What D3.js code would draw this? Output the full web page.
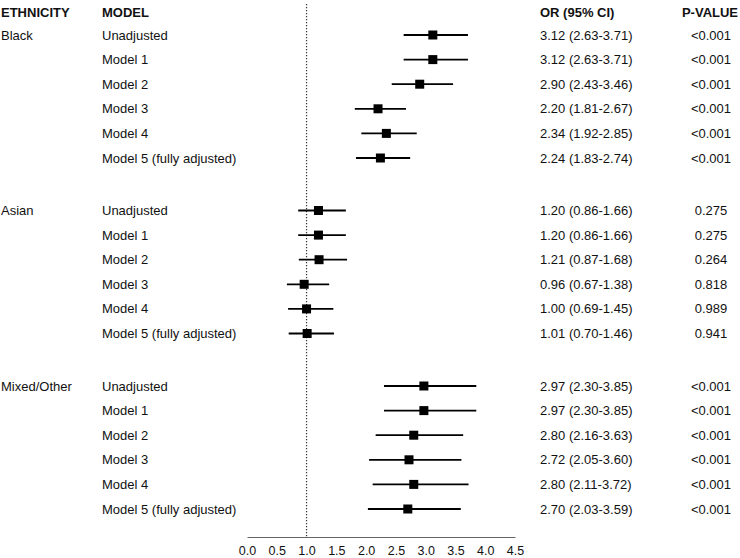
<!DOCTYPE html>
<html>
<head>
<meta charset="utf-8">
<script src="https://cdn.jsdelivr.net/npm/d3@7"></script>
<style>
  body { margin: 0; background: #fff; }
  svg text { font-family: "Liberation Sans", Arial, Helvetica, sans-serif; fill: #111; }
  .head { font-weight: bold; font-size: 13px; }
  .label { font-size: 13px; }
  .tick-label { font-size: 12.5px; }
</style>
</head>
<body>
<div id="chart"></div>
<script>
  const groups = ['Black', 'Asian', 'Mixed/Other'];
  const models = ['Unadjusted', 'Model 1', 'Model 2', 'Model 3', 'Model 4', 'Model 5 (fully adjusted)'];

  const orBlack = [3.12, 3.12, 2.90, 2.20, 2.34, 2.24];
  const loBlack = [2.63, 2.63, 2.43, 1.81, 1.92, 1.83];
  const hiBlack = [3.71, 3.71, 3.46, 2.67, 2.85, 2.74];
  const pBlack = ['<0.001', '<0.001', '<0.001', '<0.001', '<0.001', '<0.001'];

  const orAsian = [1.20, 1.20, 1.21, 0.96, 1.00, 1.01];
  const loAsian = [0.86, 0.86, 0.87, 0.67, 0.69, 0.70];
  const hiAsian = [1.66, 1.66, 1.68, 1.38, 1.45, 1.46];
  const pAsian = ['0.275', '0.275', '0.264', '0.818', '0.989', '0.941'];

  const orMixed = [2.97, 2.97, 2.80, 2.72, 2.80, 2.70];
  const loMixed = [2.30, 2.30, 2.16, 2.05, 2.11, 2.03];
  const hiMixed = [3.85, 3.85, 3.63, 3.60, 3.72, 3.59];
  const pMixed = ['<0.001', '<0.001', '<0.001', '<0.001', '<0.001', '<0.001'];

  const xTicks = [0, 0.5, 1, 1.5, 2, 2.5, 3, 3.5, 4, 4.5];

  const series = [
    {or: orBlack, lo: loBlack, hi: hiBlack, p: pBlack},
    {or: orAsian, lo: loAsian, hi: hiAsian, p: pAsian},
    {or: orMixed, lo: loMixed, hi: hiMixed, p: pMixed}
  ];

  const rows = [];
  series.forEach((s, g) => {
    models.forEach((m, i) => {
      rows.push({group: g, idx: i, model: m, or: s.or[i], lo: s.lo[i], hi: s.hi[i], p: s.p[i]});
    });
  });

  const width = 740, height = 558;
  const rowStep = 24.6, groupGap = 52.5, firstRow = 35;
  const rowY = d => firstRow + (d.group * 5 + d.idx) * rowStep + d.group * groupGap;

  const x = d3.scaleLinear()
    .domain([0, 4.5])
    .range([247, 515]);

  const axisY = 537;

  const svg = d3.select('#chart')
    .append('svg')
    .attr('width', width)
    .attr('height', height);

  // headers
  const heads = [
    {text: 'ETHNICITY', x: 1, anchor: 'start'},
    {text: 'MODEL', x: 102, anchor: 'start'},
    {text: 'OR (95% CI)', x: 540, anchor: 'start'},
    {text: 'P-VALUE', x: 710, anchor: 'middle'}
  ];
  svg.selectAll('.head')
    .data(heads)
    .enter().append('text')
      .attr('class', 'head')
      .attr('x', d => d.x)
      .attr('y', 12)
      .attr('dy', '0.35em')
      .attr('text-anchor', d => d.anchor)
      .text(d => d.text);

  // reference line at OR = 1
  svg.append('line')
    .attr('x1', x(1))
    .attr('x2', x(1))
    .attr('y1', 4)
    .attr('y2', axisY)
    .attr('stroke', '#333')
    .attr('stroke-width', 1.2)
    .attr('stroke-dasharray', '1.2,1.8');

  // group labels
  svg.selectAll('.group-label')
    .data(rows.filter(d => d.idx === 0))
    .enter().append('text')
      .attr('class', 'label group-label')
      .attr('x', 1)
      .attr('y', rowY)
      .attr('dy', '0.35em')
      .text(d => groups[d.group]);

  const row = svg.selectAll('.row')
    .data(rows)
    .enter().append('g')
      .attr('class', 'row')
      .attr('transform', d => `translate(0,${rowY(d)})`);

  row.append('text')
    .attr('class', 'label')
    .attr('x', 102)
    .attr('dy', '0.35em')
    .text(d => d.model);

  row.append('line')
    .attr('x1', d => x(d.lo))
    .attr('x2', d => x(d.hi))
    .attr('stroke', '#000')
    .attr('stroke-width', 1.8);

  row.append('rect')
    .attr('x', d => x(d.or) - 4.5)
    .attr('y', -4.5)
    .attr('width', 9)
    .attr('height', 9)
    .attr('fill', '#000');

  row.append('text')
    .attr('class', 'label')
    .attr('x', 540)
    .attr('dy', '0.35em')
    .text(d => `${d.or.toFixed(2)} (${d.lo.toFixed(2)}-${d.hi.toFixed(2)})`);

  row.append('text')
    .attr('class', 'label')
    .attr('x', 711)
    .attr('dy', '0.35em')
    .attr('text-anchor', 'middle')
    .text(d => d.p);

  // x axis
  const xAxis = d3.axisBottom(x)
    .tickValues(xTicks)
    .tickSize(0)
    .tickPadding(9)
    .tickFormat(d3.format('.1f'));

  const axisG = svg.append('g')
    .attr('transform', `translate(0,${axisY})`)
    .call(xAxis);
  axisG.select('.domain')
    .attr('stroke', '#666')
    .attr('stroke-width', 1.2);
  axisG.selectAll('.tick text')
    .attr('class', 'tick-label')
    .attr('font-family', null)
    .attr('font-size', null);
</script>
</body>
</html>
